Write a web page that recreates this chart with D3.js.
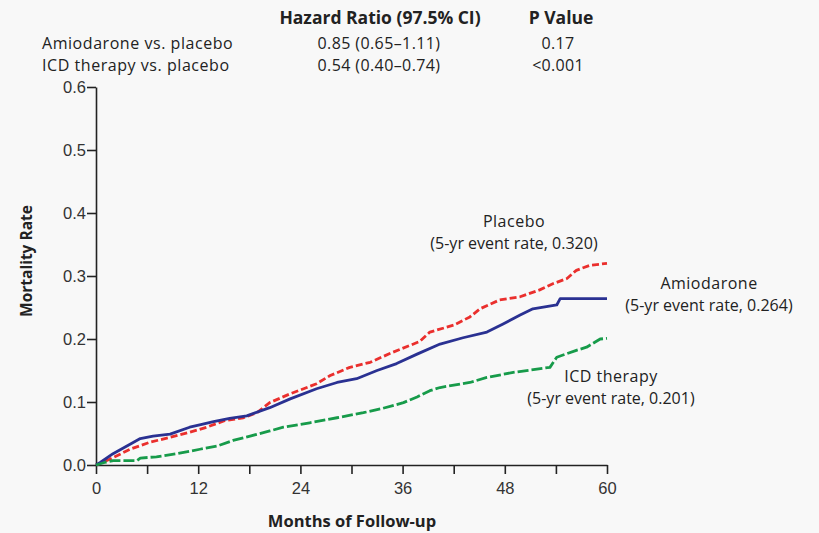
<!DOCTYPE html>
<html>
<head>
<meta charset="utf-8">
<script src="https://cdn.jsdelivr.net/npm/d3@7"></script>
<style>
  html, body { margin: 0; padding: 0; background: #f8f8f8; }
  svg { display: block; font-family: "Open Sans", "Noto Sans", sans-serif; }
  text { fill: #222; }
</style>
</head>
<body>
<svg id="chart" width="819" height="533"></svg>
<script>
// Cumulative mortality by arm (months, rate)
const placeboMonths = [0, 1.6, 4, 6.3, 8.7, 11, 13, 15, 17.3, 18.9, 20.4, 22.8, 25.9, 27.5, 29.8, 32.2, 34.5, 36.9, 38, 39.2, 42, 43.9, 45.1, 47.4, 49.8, 52.1, 53.7, 55.3, 56.4, 58, 60];
const placeboRates  = [0, 0.009, 0.025, 0.036, 0.044, 0.052, 0.060, 0.070, 0.075, 0.083, 0.099, 0.113, 0.129, 0.142, 0.155, 0.163, 0.177, 0.190, 0.196, 0.211, 0.222, 0.235, 0.248, 0.262, 0.267, 0.278, 0.288, 0.296, 0.309, 0.317, 0.320];

const amioMonths = [0, 0.5, 2, 4, 5.2, 6.7, 8.7, 11, 12.3, 13.8, 15.7, 17.7, 20.4, 22.8, 25.9, 28.3, 30.6, 33, 35.3, 37.7, 40.4, 43.1, 45.9, 47.8, 49.8, 51.3, 54.1, 54.5, 60];
const amioRates  = [0, 0.004, 0.018, 0.033, 0.042, 0.046, 0.049, 0.060, 0.064, 0.069, 0.074, 0.078, 0.091, 0.105, 0.121, 0.131, 0.137, 0.150, 0.161, 0.176, 0.192, 0.202, 0.211, 0.224, 0.238, 0.248, 0.254, 0.264, 0.264];

const icdMonths = [0, 1, 2, 4.8, 5.2, 7.1, 9.5, 12.2, 14.2, 16.1, 18.1, 20.4, 22, 25.1, 28.3, 31.4, 33.7, 36.1, 37.7, 39.2, 40.4, 43.9, 45.9, 49, 53.3, 54.1, 56.4, 57.6, 59.2, 60];
const icdRates  = [0, 0.004, 0.007, 0.007, 0.011, 0.013, 0.018, 0.025, 0.030, 0.039, 0.046, 0.054, 0.060, 0.067, 0.075, 0.083, 0.090, 0.099, 0.108, 0.118, 0.123, 0.131, 0.139, 0.147, 0.155, 0.171, 0.182, 0.187, 0.200, 0.201];

const xTicks = [0, 6, 12, 18, 24, 30, 36, 42, 48, 54, 60];
const xTickLabels = [0, 12, 24, 36, 48, 60];
const yTicks = [0, 0.1, 0.2, 0.3, 0.4, 0.5, 0.6];

const tableHeaders = ["Hazard Ratio (97.5% CI)", "P Value"];
const comparisons = ["Amiodarone vs. placebo", "ICD therapy vs. placebo"];
const hazardRatios = ["0.85 (0.65\u20131.11)", "0.54 (0.40\u20130.74)"];
const pValues = ["0.17", "<0.001"];

const seriesNames = ["Placebo", "Amiodarone", "ICD therapy"];
const eventRates = ["0.320", "0.264", "0.201"];

const svg = d3.select("#chart");

const x = d3.scaleLinear().domain([0, 60]).range([96, 607]);
const y = d3.scaleLinear().domain([0, 0.6]).range([465, 87]);

// Axes
const xAxis = d3.axisBottom(x).tickValues(xTicks).tickSize(9).tickSizeOuter(0)
  .tickFormat(d => xTickLabels.includes(d) ? d : "");
const gx = svg.append("g").attr("transform", `translate(0,${y(0)})`).call(xAxis);
gx.select(".domain").attr("stroke", "#222").attr("stroke-width", 1.6);
gx.selectAll(".tick line").attr("stroke", "#222").attr("stroke-width", 1.6);
gx.selectAll(".tick text").attr("font-size", 16.5).attr("y", 12).attr("dy", "1.0em").style("fill", "#333");

const yAxis = d3.axisLeft(y).tickValues(yTicks).tickSize(9).tickSizeOuter(0)
  .tickFormat(d3.format(".1f"));
const gy = svg.append("g").attr("transform", `translate(${x(0)},0)`).call(yAxis);
gy.select(".domain").attr("stroke", "#222").attr("stroke-width", 1.6);
gy.selectAll(".tick line").attr("stroke", "#222").attr("stroke-width", 1.6);
gy.selectAll(".tick text").attr("font-size", 16.5).attr("x", -10).style("fill", "#333");

// Axis titles
svg.append("text").attr("x", 352).attr("y", 527).attr("text-anchor", "middle")
  .attr("font-size", 16.5).attr("font-weight", "bold").text("Months of Follow-up");
svg.append("text").attr("transform", "translate(32,261) rotate(-90)").attr("text-anchor", "middle")
  .attr("font-size", 15.5).attr("font-weight", "bold").text("Mortality Rate");

// Curves
const line = d3.line().x(d => x(d[0])).y(d => y(d[1]));
const series = [
  { months: placeboMonths, rates: placeboRates, color: "#ea2f2d", dash: "7,3" },
  { months: amioMonths, rates: amioRates, color: "#2a3192", dash: null },
  { months: icdMonths, rates: icdRates, color: "#179b4a", dash: "11,3" }
];
series.forEach(s => {
  const pts = s.months.map((m, i) => [m, s.rates[i]]);
  svg.append("path").datum(pts).attr("d", line)
    .attr("fill", "none").attr("stroke", s.color).attr("stroke-width", 2.8)
    .attr("stroke-linejoin", "round")
    .attr("stroke-dasharray", s.dash);
});

// Curve labels
const labelPos = [[514, 227], [709, 289], [611, 382]];
seriesNames.forEach((name, i) => {
  const g = svg.append("g").attr("text-anchor", "middle");
  g.append("text").attr("x", labelPos[i][0]).attr("y", labelPos[i][1])
    .attr("font-size", 16).attr("letter-spacing", 0.5).text(name);
  g.append("text").attr("x", labelPos[i][0]).attr("y", labelPos[i][1] + 22)
    .attr("font-size", 16).text(`(5-yr event rate, ${eventRates[i]})`);
});

// Summary table
svg.append("text").attr("x", 380).attr("y", 24).attr("text-anchor", "middle")
  .attr("font-size", 17.5).attr("font-weight", "bold").text(tableHeaders[0]);
svg.append("text").attr("x", 561).attr("y", 24).attr("text-anchor", "middle")
  .attr("font-size", 17.5).attr("font-weight", "bold").text(tableHeaders[1]);
comparisons.forEach((c, i) => {
  const yy = 48.5 + i * 22;
  svg.append("text").attr("x", 42).attr("y", yy).attr("font-size", 16)
    .attr("letter-spacing", 0.55).text(c);
  svg.append("text").attr("x", 379).attr("y", yy).attr("text-anchor", "middle")
    .attr("font-size", 16).attr("letter-spacing", 0.4).text(hazardRatios[i]);
  svg.append("text").attr("x", 558).attr("y", yy).attr("text-anchor", "middle")
    .attr("font-size", 16).attr("letter-spacing", 0.3).text(pValues[i]);
});
</script>
</body>
</html>
